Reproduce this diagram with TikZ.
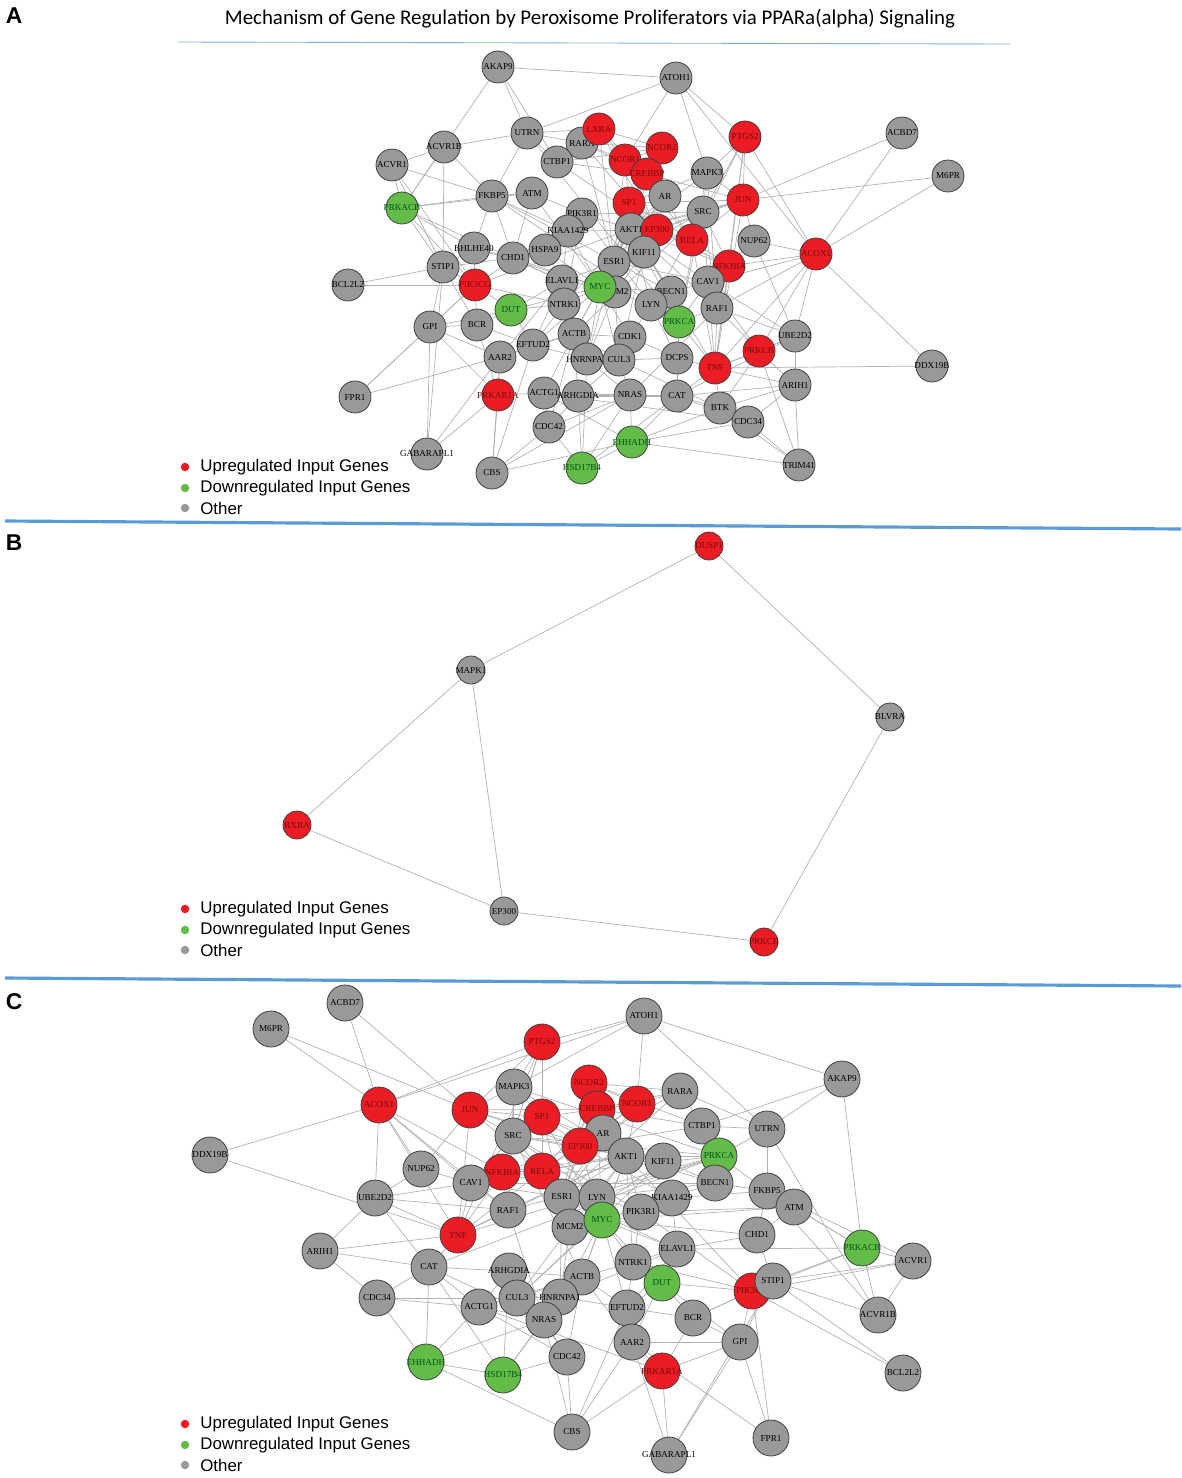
\documentclass[tikz,border=0pt]{standalone}
\usepackage{fontspec}
\newfontfamily\genefont{Liberation Serif}
\newfontfamily\legfont{Liberation Sans}
\newfontfamily\headfont{Carlito}
\usetikzlibrary{backgrounds}

\definecolor{upred}{RGB}{236,28,36}
\definecolor{uptext}{RGB}{120,10,10}
\definecolor{downgreen}{RGB}{100,188,72}
\definecolor{downtext}{RGB}{0,85,20}
\definecolor{othergray}{RGB}{153,153,153}
\definecolor{linkgray}{RGB}{178,178,178}
\definecolor{sepblue}{RGB}{91,155,213}

% edges shared by panels A and C
\def\sharededges{AKAP9/ATOH1, AKAP9/UTRN, AKAP9/CTBP1, AKAP9/PRKACB,
  ATOH1/UTRN, ATOH1/PTGS2, ATOH1/MAPK3, ATOH1/NCOR1, ATOH1/ACOX1,
  PTGS2/MAPK3, PTGS2/JUN, PTGS2/ACOX1, PTGS2/SRC, PTGS2/NFKBIA, PTGS2/RELA, PTGS2/TNF,
  ACBD7/ACOX1, ACBD7/JUN, M6PR/ACOX1, M6PR/JUN,
  ACOX1/DDX19B, ACOX1/UBE2D2, ACOX1/NUP62, ACOX1/NFKBIA, ACOX1/CAV1, ACOX1/RAF1, ACOX1/TNF,
  DDX19B/TNF,
  UBE2D2/ARIH1, UBE2D2/NUP62, UBE2D2/CAV1, UBE2D2/TNF, UBE2D2/CAT, UBE2D2/RAF1,
  ARIH1/CDC34, ARIH1/CAT, ARIH1/TNF,
  CDC34/EHHADH, CDC34/CAT, CDC34/ACTG1, CDC34/CUL3,
  EHHADH/CAT, EHHADH/HSD17B4, EHHADH/ACTG1, EHHADH/CBS, EHHADH/NRAS,
  HSD17B4/CAT, HSD17B4/NRAS, HSD17B4/ARHGDIA, HSD17B4/CDC42, HSD17B4/HNRNPA1,
  CBS/PRKAR1A, CBS/CDC42, CBS/NRAS, CBS/AAR2, CBS/EFTUD2,
  GABARAPL1/PRKAR1A, GABARAPL1/GPI, GABARAPL1/AAR2, GABARAPL1/STIP1,
  FPR1/GPI, FPR1/PIK3CG, FPR1/AAR2,
  GPI/PIK3CG, GPI/BCR, GPI/STIP1, GPI/AAR2, GPI/DUT,
  BCL2L2/PIK3CG, BCL2L2/STIP1,
  PRKACB/ACVR1, PRKACB/ACVR1B, PRKACB/STIP1, PRKACB/FKBP5, PRKACB/ATM, PRKACB/PIK3CG, PRKACB/ELAVL1,
  ACVR1/ACVR1B, ACVR1/FKBP5, ACVR1/STIP1, ACVR1/PIK3CG,
  ACVR1B/UTRN, ACVR1B/FKBP5, ACVR1B/STIP1,
  UTRN/FKBP5, UTRN/PRKCA, UTRN/CTBP1, UTRN/RARA,
  FKBP5/ATM, FKBP5/PRKCA, FKBP5/KIAA1429, FKBP5/CHD1, FKBP5/BECN1,
  ATM/CHD1, ATM/PIK3R1, ATM/MYC,
  STIP1/PIK3CG, STIP1/CHD1, STIP1/BCR,
  PRKAR1A/AAR2, PRKAR1A/BCR, PRKAR1A/ACTG1, PRKAR1A/GPI,
  AKT1/SRC, AKT1/EP300, AKT1/CREBBP, AKT1/ESR1, AKT1/MYC, AKT1/RELA, AKT1/NFKBIA, AKT1/JUN,
  AKT1/SP1, AKT1/AR, AKT1/MAPK3, AKT1/PIK3R1, AKT1/PRKCA, AKT1/BECN1, AKT1/RAF1, AKT1/TNF,
  AKT1/KIF11, AKT1/NCOR1, AKT1/CAV1, AKT1/ACTB, AKT1/NTRK1, AKT1/MCM2, AKT1/LYN, AKT1/PIK3CG,
  SRC/JUN, SRC/MAPK3, SRC/EP300, SRC/CAV1, SRC/LYN, SRC/ESR1, SRC/PRKCA, SRC/NFKBIA,
  SRC/RAF1, SRC/ACTB, SRC/PIK3R1,
  EP300/CREBBP, EP300/SP1, EP300/JUN, EP300/RELA, EP300/NFKBIA, EP300/AR, EP300/ESR1,
  EP300/MYC, EP300/NCOR1, EP300/NCOR2, EP300/RARA, EP300/CTBP1, EP300/KIAA1429,
  CREBBP/SP1, CREBBP/JUN, CREBBP/RELA, CREBBP/AR, CREBBP/NCOR1, CREBBP/NCOR2, CREBBP/RARA,
  CREBBP/CTBP1, CREBBP/MYC, CREBBP/ESR1,
  ESR1/SP1, ESR1/NCOR1, ESR1/NCOR2, ESR1/AR, ESR1/MYC, ESR1/RARA, ESR1/ELAVL1, ESR1/HNRNPA1,
  ESR1/MCM2, ESR1/CAV1,
  MYC/MCM2, MYC/SP1, MYC/ELAVL1, MYC/NTRK1, MYC/ACTB, MYC/HNRNPA1, MYC/CUL3, MYC/DUT,
  MYC/KIAA1429, MYC/EFTUD2, MYC/CHD1, MYC/LYN, MYC/BECN1,
  RELA/NFKBIA, RELA/JUN, RELA/SP1, RELA/TNF, RELA/NCOR1,
  NFKBIA/TNF, NFKBIA/RAF1, NFKBIA/CAV1,
  JUN/SP1, JUN/MAPK3, JUN/NUP62, JUN/TNF,
  NCOR1/NCOR2, NCOR2/RARA, NCOR1/RARA, RARA/CTBP1, CTBP1/NCOR2,
  MAPK3/RAF1, MAPK3/PRKCA, MAPK3/SP1,
  PIK3R1/PIK3CG, PIK3R1/KIAA1429, PIK3R1/LYN, PIK3R1/NTRK1,
  ELAVL1/NTRK1, ELAVL1/HNRNPA1, ELAVL1/KIAA1429, ELAVL1/CHD1, ELAVL1/DUT, ELAVL1/EFTUD2, ELAVL1/AAR2,
  NTRK1/ACTB, NTRK1/DUT, NTRK1/EFTUD2, NTRK1/PIK3CG,
  ACTB/ACTG1, ACTB/CDC42, ACTB/HNRNPA1, ACTB/CUL3, ACTB/ARHGDIA, ACTB/EFTUD2, ACTB/AAR2,
  HNRNPA1/CUL3, HNRNPA1/NRAS, HNRNPA1/EFTUD2,
  CUL3/NRAS, CUL3/ARHGDIA, CUL3/MCM2, CUL3/KIF11,
  NRAS/CDC42, NRAS/RAF1, NRAS/ARHGDIA, NRAS/ACTG1,
  CDC42/ARHGDIA, CDC42/ACTG1, ARHGDIA/ACTG1, ARHGDIA/CAT,
  LYN/BECN1, LYN/PRKCA, PRKCA/BECN1, PRKCA/CAV1, PRKCA/RAF1, PRKCA/TNF, PRKCA/CAT,
  BECN1/KIF11, BECN1/CAV1, CAV1/RAF1, CAV1/TNF, CAV1/NUP62, RAF1/TNF, TNF/CAT,
  KIF11/MCM2, KIF11/SP1,
  EFTUD2/AAR2, EFTUD2/BCR, EFTUD2/DUT, DUT/BCR, DUT/PIK3CG, BCR/PIK3CG,
  MCM2/HNRNPA1, CAT/ACTG1, CAT/NRAS}

\begin{document}
\begin{tikzpicture}[x=0.02cm,y=-0.02cm]
    \tikzset{gene/.style = {shape=circle,draw=black!75,line width=0.45pt,inner sep=0pt,
        minimum size=0.64cm,font=\genefont\fontsize{5.2}{6}\selectfont}}
    \tikzset{upgene/.style = {gene,fill=upred,text=uptext}}
    \tikzset{downgene/.style = {gene,fill=downgreen,text=downtext}}
    \tikzset{othergene/.style = {gene,fill=othergray,text=black}}
    \tikzset{link/.style = {draw=linkgray,line width=0.4pt}}
    \tikzset{sepline/.style = {draw=sepblue,line width=1.8pt}}
    \tikzset{legdot/.style = {shape=circle,inner sep=0pt,minimum size=0.17cm}}
    \tikzset{legtext/.style = {anchor=west,inner sep=0pt,font=\legfont\fontsize{9.6}{11}\selectfont}}
    \tikzset{panellab/.style = {font=\legfont\bfseries\fontsize{13}{15}\selectfont}}

    \useasboundingbox (0,0) rectangle (1181,1478);

    % headings and separators
    \node[panellab] (labA) at (14,16) {A};
    \node[panellab] (labB) at (14,543) {B};
    \node[panellab] (labC) at (14,1002) {C};
    \node[font=\headfont\fontsize{11.9}{13}\selectfont] (title) at (590,19)
        {Mechanism of Gene Regulation by Peroxisome Proliferators via PPARa(alpha) Signaling};
    \draw[draw=sepblue!80,line width=0.5pt] (178,42) -- (1010,44);
    \draw[sepline] (5,521) -- (1181,529);
    \draw[sepline] (5,978) -- (1181,986);

    % panel A vertices
    \foreach \g/\x/\y/\s in {AKAP9/498/67/othergene, ATOH1/676/78/othergene, UTRN/527/133/othergene,
        ACVR1B/444/147/othergene, ACVR1/392/165/othergene, PRKACB/402/208/downgene,
        FKBP5/492/196/othergene, ATM/532/193/othergene, RARA/582/143/othergene,
        LXRA/599/129/upgene, CTBP1/557/162/othergene, NCOR2/662/148/upgene,
        NCOR1/625/160/upgene, CREBBP/647/174/upgene, PTGS2/745/137/upgene,
        MAPK3/707/173/othergene, AR/665/196/othergene, SP1/629/203/upgene,
        JUN/743/200/upgene, SRC/703/212/othergene, ACBD7/902/133/othergene,
        M6PR/948/176/othergene, PIK3R1/582/214/othergene, KIAA1429/568/231/othergene,
        AKT1/631/229/othergene, EP300/657/230/upgene, RELA/692/240/upgene,
        NUP62/754/241/othergene, ACOX1/816/254/upgene, KIF11/644/252/othergene,
        ESR1/614/262/othergene, NFKBIA/729/266/upgene, CAV1/708/282/othergene,
        BHLHE40/474/248/othergene, CHD1/513/258/othergene, HSPA9/545/250/othergene,
        STIP1/443/267/othergene, BCL2L2/348/285/othergene, PIK3CG/475/285/upgene,
        ELAVL1/562/281/othergene, MCM2/615/292/othergene, MYC/600/287/downgene,
        BECN1/671/292/othergene, LYN/651/305/othergene, RAF1/717/308/othergene,
        DUT/511/310/downgene, NTRK1/564/304/othergene, PRKCA/679/322/downgene,
        GPI/430/327/othergene, BCR/477/325/othergene, ACTB/574/334/othergene,
        CDK1/630/337/othergene, UBE2D2/795/336/othergene, EFTUD2/533/345/othergene,
        PRKCB/759/351/upgene, AAR2/500/357/othergene, HNRNPA1/587/359/othergene,
        CUL3/619/360/othergene, DCPS/677/358/othergene, TNF/715/368/upgene,
        DDX19B/932/366/othergene, ARIH1/795/385/othergene, FPR1/355/397/othergene,
        PRKAR1A/498/395/upgene, ACTG1/544/393/othergene, ARHGDIA/578/396/othergene,
        NRAS/630/395/othergene, CAT/677/396/othergene, BTK/720/408/othergene,
        CDC34/748/422/othergene, CDC42/549/427/othergene, EHHADH/632/442/downgene,
        GABARAPL1/427/454/othergene, TRIM41/799/465/othergene, HSD17B4/582/468/downgene,
        CBS/492/473/othergene}
        \node[style=\s] (a-\g) at (\x,\y) {\makebox[0pt]{\g}};

    % panel B vertices
    \foreach \g/\x/\y/\s in {DUSP1/709/546/upgene, MAPK1/471/670/othergene, BLVRA/890/717/othergene,
        RXRA/297/825/upgene, EP300/504/911/othergene, PRKCB/764/942/upgene}
        \node[style=\s,minimum size=0.56cm] (b-\g) at (\x,\y) {\makebox[0pt]{\g}};

    % panel C vertices
    \foreach \g/\x/\y/\s in {ACBD7/345/1003/othergene, M6PR/271/1029/othergene, ATOH1/644/1016/othergene,
        PTGS2/542/1042/upgene, AKAP9/842/1079/othergene, MAPK3/514/1087/othergene,
        RARA/680/1091/othergene, NCOR2/589/1083/upgene, ACOX1/379/1105/upgene,
        JUN/470/1110/upgene, NCOR1/637/1104/upgene, CREBBP/597/1109/upgene,
        SP1/542/1117/upgene, CTBP1/702/1126/othergene, UTRN/767/1129/othergene,
        AR/603/1133/othergene, SRC/513/1136/othergene, EP300/580/1146/upgene,
        AKT1/626/1156/othergene, KIF11/663/1161/othergene, PRKCA/719/1156/downgene,
        DDX19B/210/1155/othergene, NUP62/421/1169/othergene, NFKBIA/502/1172/upgene,
        RELA/542/1171/upgene, CAV1/471/1183/othergene, BECN1/715/1183/othergene,
        FKBP5/767/1191/othergene, ESR1/562/1197/othergene, LYN/597/1197/othergene,
        KIAA1429/672/1198/othergene, UBE2D2/375/1198/othergene, ATM/794/1207/othergene,
        RAF1/508/1210/othergene, PIK3R1/641/1212/othergene, MCM2/570/1227/othergene,
        MYC/602/1220/downgene, TNF/458/1235/upgene, CHD1/757/1235/othergene,
        PRKACB/862/1248/downgene, ELAVL1/677/1249/othergene, ARIH1/320/1251/othergene,
        ACVR1/913/1261/othergene, NTRK1/633/1262/othergene, CAT/429/1267/othergene,
        ARHGDIA/509/1271/othergene, ACTB/582/1277/othergene, DUT/662/1283/downgene,
        PIK3CG/752/1291/upgene, STIP1/773/1281/othergene, CDC34/377/1298/othergene,
        HNRNPA1/560/1297/othergene, CUL3/517/1298/othergene, ACTG1/479/1307/othergene,
        EFTUD2/627/1308/othergene, ACVR1B/878/1315/othergene, BCR/693/1318/othergene,
        NRAS/544/1320/othergene, AAR2/632/1342/othergene, GPI/740/1342/othergene,
        CDC42/567/1357/othergene, EHHADH/426/1362/downgene, PRKAR1A/662/1371/upgene,
        BCL2L2/903/1373/othergene, HSD17B4/503/1375/downgene, CBS/572/1432/othergene,
        FPR1/771/1438/othergene, GABARAPL1/669/1455/othergene}
        \node[style=\s,minimum size=0.72cm] (c-\g) at (\x,\y) {\makebox[0pt]{\g}};

    % legends
    \foreach \p/\ly in {A/467,B/909,C/1424} {
        \node[legdot,fill=upred] (\p-updot) at (185,\ly) {};
        \node[legdot,fill=downgreen] (\p-downdot) at (185,\ly+21) {};
        \node[legdot,fill=othergray] (\p-otherdot) at (185,\ly+41) {};
        \node[legtext] (\p-uptxt) at (200,\ly) {Upregulated Input Genes};
        \node[legtext] (\p-downtxt) at (200,\ly+21) {Downregulated Input Genes};
        \node[legtext] (\p-othertxt) at (200,\ly+41) {Other};
    }

    % edges
    \begin{pgfonlayer}{background}
        \foreach \p in {a,c}
            \foreach \u/\v in \sharededges
                \draw[link] (\p-\u) -- (\p-\v);

        \foreach \u/\v in {LXRA/RARA, LXRA/NCOR1, LXRA/NCOR2, LXRA/CREBBP, LXRA/EP300, LXRA/UTRN,
            LXRA/ESR1, BHLHE40/STIP1, BHLHE40/PIK3CG, BHLHE40/PRKACB, BHLHE40/FKBP5,
            BHLHE40/CHD1, BHLHE40/MYC, HSPA9/CHD1, HSPA9/ELAVL1, HSPA9/MYC, HSPA9/KIAA1429,
            CDK1/CUL3, CDK1/MYC, CDK1/ACTB, CDK1/LYN, CDK1/DCPS, DCPS/CUL3, DCPS/CAT,
            DCPS/TNF, DCPS/LYN, BTK/TNF, BTK/CDC34, BTK/EHHADH, BTK/PRKCB, BTK/CAT, BTK/ARIH1,
            TRIM41/ARIH1, TRIM41/PRKCB, TRIM41/CDC34, TRIM41/EHHADH, TRIM41/BTK,
            PRKCB/TNF, PRKCB/UBE2D2, PRKCB/ARIH1, PRKCB/RAF1, PRKCB/ACOX1, PRKCB/CAV1}
            \draw[link] (a-\u) -- (a-\v);

        \foreach \u/\v in {DUSP1/MAPK1, DUSP1/BLVRA, MAPK1/RXRA, MAPK1/EP300,
            RXRA/EP300, EP300/PRKCB, BLVRA/PRKCB}
            \draw[link] (b-\u) -- (b-\v);
    \end{pgfonlayer}
\end{tikzpicture}
\end{document}
